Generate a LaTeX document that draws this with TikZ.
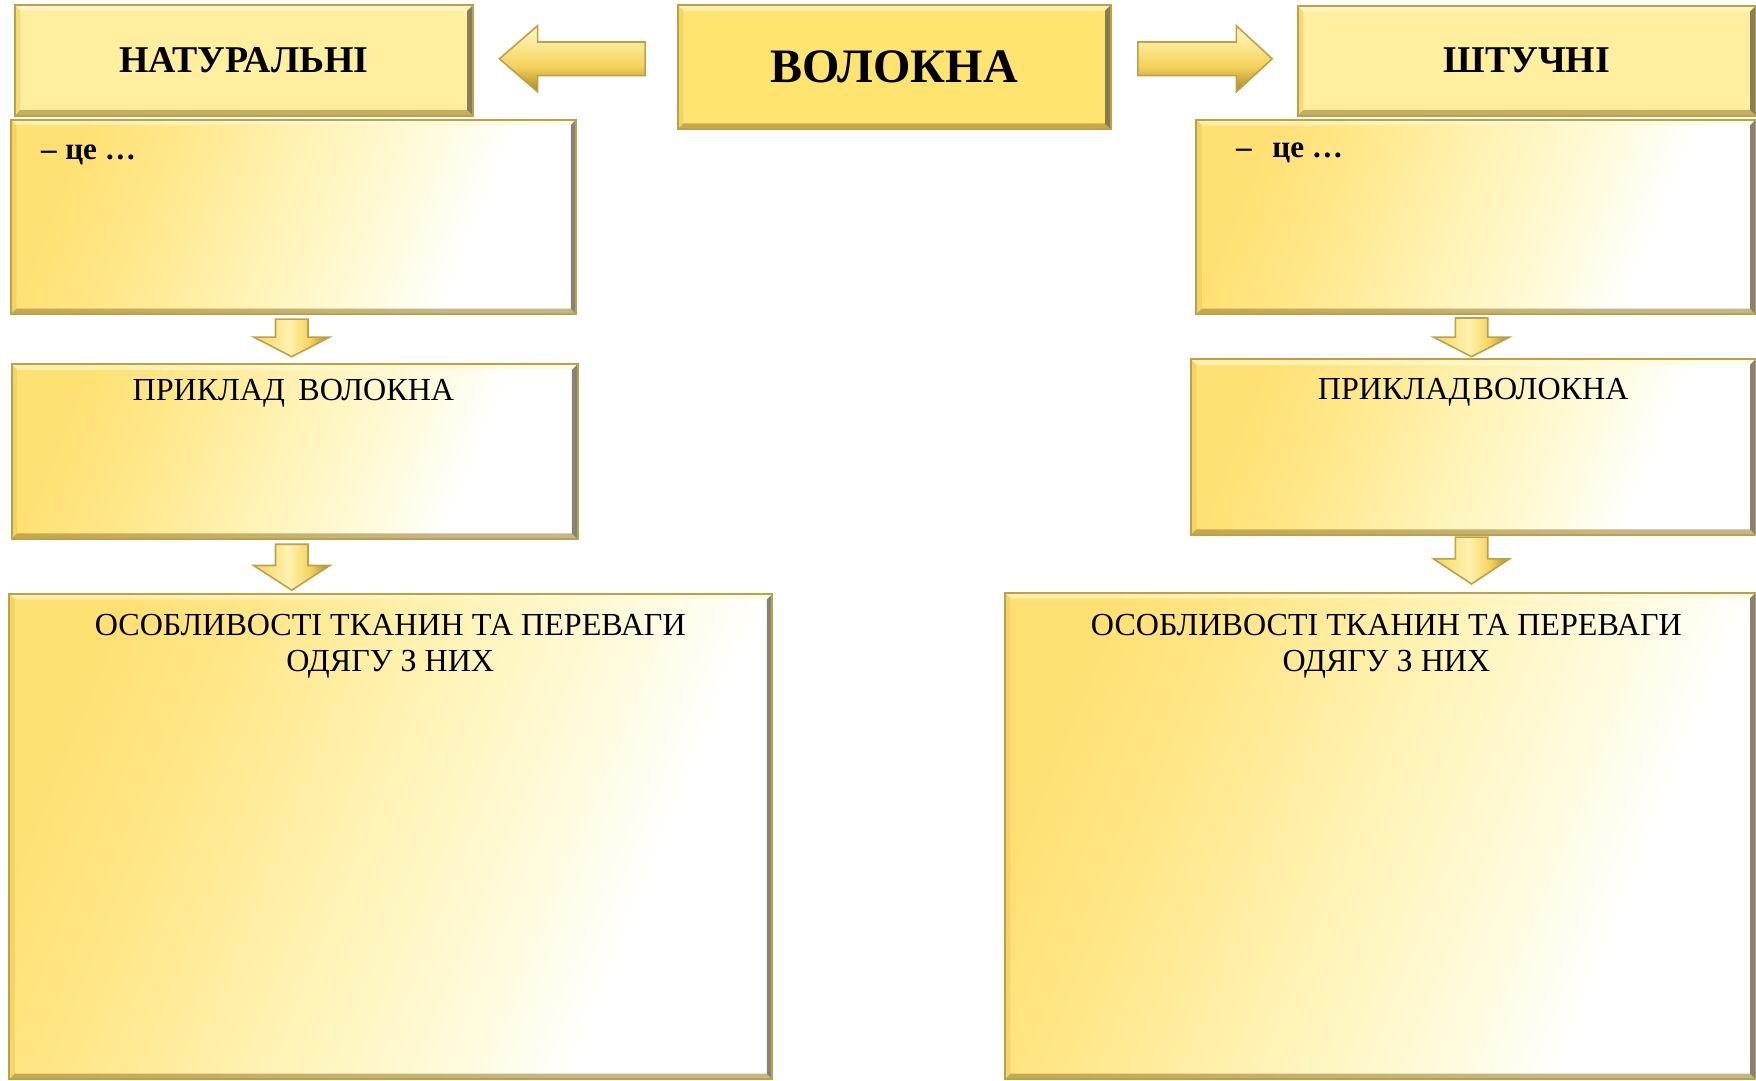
\documentclass[tikz,border=0pt]{standalone}
\usepackage{fontspec}
\setmainfont{Liberation Serif}
\usetikzlibrary{calc,fit}

% palette
\definecolor{paleGold}{RGB}{255,239,158}
\definecolor{richGold}{RGB}{255,228,112}
\definecolor{fadeA}{RGB}{255,224,115}
\definecolor{fadeA2}{RGB}{255,231,138}
\definecolor{fadeB}{RGB}{255,244,186}
\definecolor{fadeC}{RGB}{255,251,222}
\definecolor{rimLight}{RGB}{255,250,215}
\definecolor{rimGold}{RGB}{232,196,80}
\definecolor{rimBrown}{RGB}{150,122,45}
\definecolor{rimDark}{RGB}{85,78,60}
\definecolor{outlineGold}{RGB}{190,160,70}
\definecolor{arTop}{RGB}{255,242,175}
\definecolor{arMid}{RGB}{245,212,92}
\definecolor{arBot}{RGB}{170,136,40}

% yellow-to-white fill of the content boxes
\pgfdeclarehorizontalshading{goldfade}{100bp}{color(0bp)=(fadeA); color(25bp)=(fadeA);
  color(35bp)=(fadeA2); color(50bp)=(fadeB); color(61bp)=(fadeC); color(69bp)=(white); color(100bp)=(white)}
% gold gradients of the block arrows
\pgfdeclareverticalshading{arrowside}{100bp}{color(0bp)=(arBot); color(25bp)=(arBot);
  color(45bp)=(arMid); color(68bp)=(arTop); color(100bp)=(arTop)}
\pgfdeclarehorizontalshading{arrowdown}{100bp}{color(0bp)=(arMid); color(25bp)=(arMid);
  color(48bp)=(arTop); color(62bp)=(arMid); color(75bp)=(arBot); color(100bp)=(arBot)}

\tikzset{
  x=0.01cm, y=-0.01cm,
  panel/.style={inner sep=0pt, draw=none},
  fadepanel/.style={panel, shading=goldfade, shading angle=-22},
  hdr/.style={inner sep=0pt, font=\fontsize{9.6}{11}\selectfont\bfseries},
  title/.style={inner sep=0pt, font=\fontsize{12.2}{14}\selectfont\bfseries},
  lbl/.style={inner sep=0pt, font=\fontsize{8.15}{9.25}\selectfont},
  cetext/.style={inner sep=0pt, font=\fontsize{7.9}{9}\selectfont\bfseries},
  sidearrow/.style={shading=arrowside, draw=outlineGold, line width=.4pt},
  downarr/.style={shading=arrowdown, draw=outlineGold, line width=.4pt},
}

% bevelled rim around a panel node
\newcommand{\bevel}[1]{%
  \fill[rimLight, opacity=.6] (#1.north west) -- (#1.north east) -- ($(#1.north east)+(-5,5)$) -- ($(#1.north west)+(5,5)$) -- cycle;
  \fill[rimGold, opacity=.45] (#1.north west) -- ($(#1.north west)+(5,5)$) -- ($(#1.south west)+(5,-5)$) -- (#1.south west) -- cycle;
  \fill[rimBrown, opacity=.55] (#1.south west) -- ($(#1.south west)+(5,-5)$) -- ($(#1.south east)+(-5,-5)$) -- (#1.south east) -- cycle;
  \fill[rimDark, opacity=.7] (#1.north east) -- (#1.south east) -- ($(#1.south east)+(-5,-5)$) -- ($(#1.north east)+(-5,5)$) -- cycle;
  \draw[outlineGold, line width=.5pt] (#1.north west) rectangle (#1.south east);
}

% downward block arrow: top-centre point, shaft length, head length
\newcommand{\dnarrow}[3]{%
  \path[downarr] ($(#1)+(-14.5,0)$) -- ++(29,0) -- ++(0,#2) -- ++(19.5,0) -- ++(-34,#3) -- ++(-34,-#3) -- ++(19.5,0) -- cycle;
}

\begin{document}
\begin{tikzpicture}
\useasboundingbox (0,0) rectangle (1568,965);

% top row
\node[panel, fill=paleGold, fit={(14,5.5) (421.5,102.5)}] (nat) {};
\node[panel, fill=richGold, fit={(606,5.5) (991,114.5)}] (fib) {};
\node[panel, fill=paleGold, fit={(1159.5,6) (1567,102.5)}] (art) {};

% definition boxes
\node[fadepanel, fit={(10.3,107.5) (514,280)}] (defL) {};
\node[fadepanel, fit={(1069,107.7) (1567,280)}] (defR) {};

% example boxes
\node[fadepanel, fit={(11,326) (515,480.5)}] (exL) {};
\node[fadepanel, fit={(1064,321.5) (1567,477)}] (exR) {};

% properties boxes
\node[fadepanel, fit={(9,531) (689,963)}] (prL) {};
\node[fadepanel, fit={(898,530) (1567,963)}] (prR) {};

\foreach \b in {nat,fib,art,defL,defR,exL,exR,prL,prR} {\bevel{\b}}

% texts
\node[hdr] (natT) at (nat.center) {НАТУРАЛЬНІ};
\node[hdr] (artT) at (art.center) {ШТУЧНІ};
\node[title] (fibT) at (fib.center) {ВОЛОКНА};

\node[cetext, anchor=base west] (defLT) at (36,142) {–\hspace{2.2pt}це …};
\node[cetext, anchor=base west] (defRT) at (1103,141) {–\hspace{5.3pt}це …};

\node[lbl, anchor=base] (exLT) at (262,358) {ПРИКЛАД\hspace{3.4pt}ВОЛОКНА};
\node[lbl, anchor=base] (exRT) at (1315.5,356.5) {ПРИКЛАД\kern0.6pt ВОЛОКНА};

\node[lbl, align=center, anchor=north] (prLT) at (348.5,547.5) {ОСОБЛИВОСТІ ТКАНИН ТА ПЕРЕВАГИ\\ОДЯГУ З НИХ};
\node[lbl, align=center, anchor=north] (prRT) at (1238,547.5) {ОСОБЛИВОСТІ ТКАНИН ТА ПЕРЕВАГИ\\ОДЯГУ З НИХ};

% side arrows from the central box
\coordinate (tipL) at (446,52.5);
\path[sidearrow] (tipL) -- ++(34,-29.5) -- ++(0,14.5) -- ++(96,0) -- ++(0,30) -- ++(-96,0) -- ++(0,14.5) -- cycle;
\coordinate (tipR) at (1136,52.5);
\path[sidearrow] (tipR) -- ++(-32,-29.5) -- ++(0,14.5) -- ++(-88,0) -- ++(0,30) -- ++(88,0) -- ++(0,14.5) -- cycle;

% down arrows between the boxes
\coordinate (dL1) at (260.5,285);
\coordinate (dL2) at (260.5,486);
\coordinate (dR1) at (1314,284);
\coordinate (dR2) at (1314,479.6);
\dnarrow{dL1}{16}{17.5}
\dnarrow{dL2}{19}{22}
\dnarrow{dR1}{17}{17.5}
\dnarrow{dR2}{19.4}{22.5}
\end{tikzpicture}
\end{document}
